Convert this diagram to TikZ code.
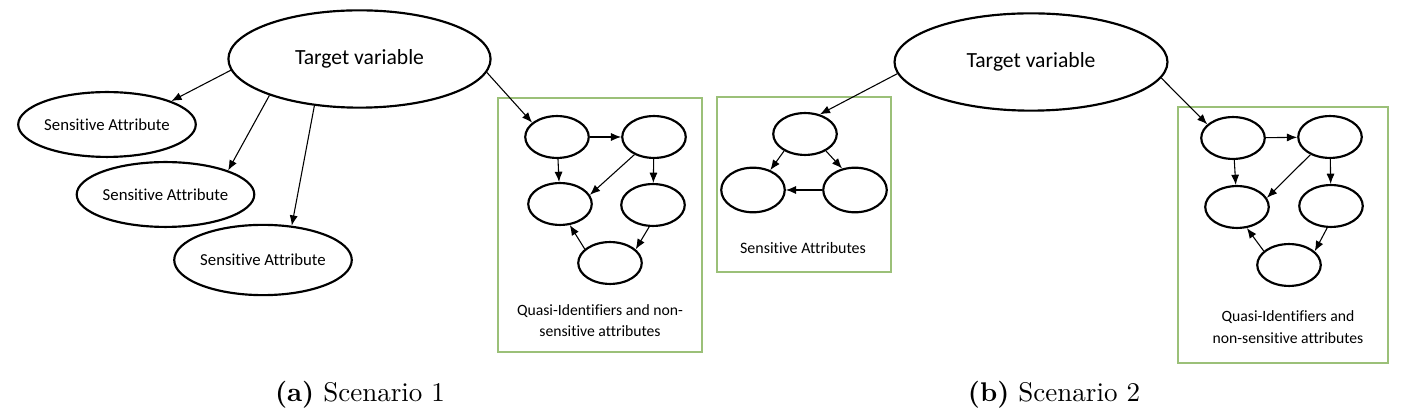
\documentclass[tikz,border=0pt]{standalone}
\usepackage{fontspec}
\usepackage{xcolor}
\usetikzlibrary{shapes.geometric, arrows.meta}
\newfontfamily\calibri[Ligatures=NoCommon]{Carlito}
\definecolor{boxgreen}{RGB}{155,192,120}
\tikzstyle{arrow}  = [thin, -{Latex[length=3.8pt,width=3pt]}]
\tikzstyle{target} = [ellipse, draw, thick, inner sep=0pt, minimum width=97pt, minimum height=36pt, font=\calibri\fontsize{8}{9}\selectfont]
\tikzstyle{attr}   = [ellipse, draw, thick, inner sep=0pt, minimum width=64pt, minimum height=24pt, font=\calibri\fontsize{6.2}{7}\selectfont]
\tikzstyle{var}    = [ellipse, draw, thick, inner sep=0pt, minimum width=23.5pt, minimum height=15.5pt]
\tikzstyle{group}  = [rectangle, draw=boxgreen, line width=1pt]
\tikzset{every node/.style={align=center}}

\begin{document}
\begin{tikzpicture}[x=0.37pt, y=-0.37pt]
    \useasboundingbox (0,0) rectangle (1418,416);

    % scenario 1
    \node (tva)  at (359.5, 59)  [target] {Target variable};
    \node (sa1)  at (107, 124.5) [attr] {Sensitive Attribute};
    \node (sa2)  at (165.5, 194.5) [attr] {Sensitive Attribute};
    \node (sa3)  at (263, 260)   [attr, minimum width=65pt, minimum height=26pt] {Sensitive Attribute};

    \node (qia)  at (600, 225)   [group, minimum width=75.5pt, minimum height=94pt] {};
    \node (qa1)  at (557, 137)   [var] {};
    \node (qb1)  at (654, 137)   [var] {};
    \node (qc1)  at (560, 204)   [var] {};
    \node (qd1)  at (653, 205)   [var] {};
    \node (qe1)  at (610, 263)   [var] {};
    \node (qlab1) at (600, 321)  [font=\calibri\fontsize{5.8}{7.8}\selectfont]
          {Quasi-Identifiers and non-\\sensitive attributes};

    \draw [arrow] (tva.185) -- (sa1.20);
    \draw [arrow] (tva.202) -- (sa2.21);
    \draw [arrow] (tva.226) -- (sa3.50);
    \draw [arrow] (tva.354) -- (qa1.150);

    \draw [arrow] (qa1) -- (qb1);
    \draw [arrow] (qa1) -- (qc1);
    \draw [arrow] (qb1.222) -- (qc1.17);
    \draw [arrow] (qb1) -- (qd1);
    \draw [arrow] (qd1.260) -- (qe1.28);
    \draw [arrow] (qe1.151) -- (qc1.295);

    % scenario 2
    \node (tvb)  at (1031, 62)   [target, minimum width=101pt] {Target variable};

    \node (sag)  at (804, 184.5) [group, minimum width=64.4pt, minimum height=64.75pt] {};
    \node (st)   at (805, 134)   [var] {};
    \node (sl)   at (753, 190)   [var, minimum height=16.5pt] {};
    \node (sr)   at (855, 190)   [var, minimum height=16.5pt] {};
    \node (slab) at (803, 248)   [font=\calibri\fontsize{5.9}{7}\selectfont] {Sensitive Attributes};

    \node (qib)  at (1283, 235)  [group, minimum width=77.7pt, minimum height=94.7pt] {};
    \node (qa2)  at (1233, 138)  [var] {};
    \node (qb2)  at (1330, 137)  [var] {};
    \node (qc2)  at (1237, 207)  [var] {};
    \node (qd2)  at (1331, 206)  [var] {};
    \node (qe2)  at (1289, 265)  [var] {};
    \node (qlab2) at (1288, 327) [font=\calibri\fontsize{5.8}{8}\selectfont]
          {Quasi-Identifiers and\\non-sensitive attributes};

    \draw [arrow] (tvb.185) -- (st.53);
    \draw [arrow] (tvb.353) -- (qa2.152);

    \draw [arrow] (st.219) -- (sl.49);
    \draw [arrow] (st.321) -- (sr.121);
    \draw [arrow] (sr) -- (sl);

    \draw [arrow] (qa2) -- (qb2);
    \draw [arrow] (qa2) -- (qc2);
    \draw [arrow] (qb2.222) -- (qc2.17);
    \draw [arrow] (qb2) -- (qd2);
    \draw [arrow] (qd2.260) -- (qe2.28);
    \draw [arrow] (qe2.151) -- (qc2.295);

    % captions
    \node (capa) at (360, 395)  {\textbf{(a)} Scenario 1};
    \node (capb) at (1054, 395) {\textbf{(b)} Scenario 2};
\end{tikzpicture}
\end{document}
